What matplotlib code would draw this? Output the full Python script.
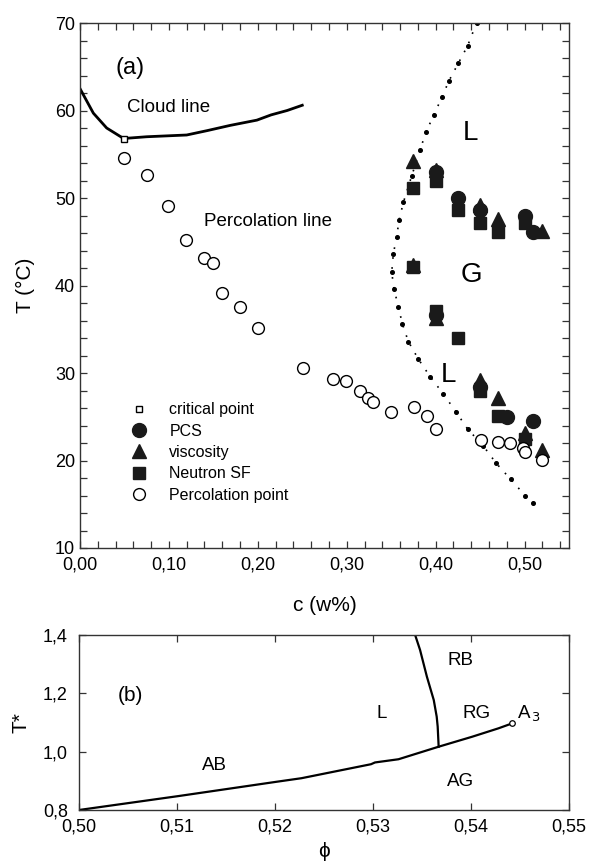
import numpy as np
import matplotlib.pyplot as plt
from matplotlib.ticker import MultipleLocator, FuncFormatter

plt.rcParams['font.family'] = ['Liberation Sans', 'DejaVu Sans']

# ---- panel (a) data ----
cloud_c = [0.000, 0.015, 0.030, 0.049, 0.075, 0.120, 0.143, 0.169, 0.199, 0.215, 0.233, 0.250]
cloud_T = [62.5, 59.7, 58.0, 56.8, 57.0, 57.2, 57.7, 58.3, 58.9, 59.5, 60.0, 60.6]

crit_c = [0.049]
crit_T = [56.8]

# coexistence boundary (dotted)
bnd_c = [0.446, 0.436, 0.4255, 0.415, 0.407, 0.398, 0.389, 0.3825, 0.373, 0.3637, 0.359, 0.356,
         0.3524, 0.3506, 0.3532, 0.358, 0.3626, 0.3693, 0.3805, 0.3937, 0.4087, 0.4226,
         0.436, 0.4537, 0.468, 0.4844, 0.5006, 0.510]
bnd_T = [70.0, 67.4, 65.4, 63.4, 61.5, 59.5, 57.5, 55.5, 52.5, 49.5, 47.5, 45.5,
         43.6, 41.5, 39.6, 37.6, 35.6, 33.6, 31.6, 29.6, 27.6, 25.6,
         23.6, 21.65, 19.7, 17.85, 16.0, 15.1]

pcs_c = [0.40, 0.425, 0.45, 0.50, 0.51, 0.40, 0.45, 0.48, 0.51]
pcs_T = [53.0, 50.0, 48.6, 48.0, 46.1, 36.6, 28.4, 25.0, 24.5]

visc_c = [0.375, 0.40, 0.45, 0.47, 0.52, 0.375, 0.40, 0.45, 0.47, 0.50, 0.52]
visc_T = [54.2, 53.2, 49.2, 47.6, 46.2, 42.3, 36.3, 29.2, 27.2, 23.2, 21.2]

nsf_c = [0.375, 0.40, 0.425, 0.45, 0.47, 0.50, 0.375, 0.40, 0.425, 0.45, 0.47, 0.50]
nsf_T = [51.1, 52.0, 48.6, 47.1, 46.1, 47.1, 42.1, 37.1, 34.0, 28.0, 25.1, 22.5]

perc_c = [0.050, 0.075, 0.099, 0.119, 0.1395, 0.150, 0.160, 0.180, 0.2006, 0.2505, 0.284,
          0.299, 0.315, 0.324, 0.330, 0.350, 0.376, 0.390, 0.4005, 0.451, 0.470, 0.484,
          0.498, 0.5006, 0.520]
perc_T = [54.6, 52.6, 49.1, 45.2, 43.1, 42.6, 39.1, 37.6, 35.1, 30.6, 29.3,
          29.1, 27.9, 27.1, 26.65, 25.6, 26.1, 25.1, 23.6, 22.3, 22.1, 22.0,
          21.4, 21.0, 20.05]

# ---- panel (b) data ----
low_phi = [0.500, 0.5102, 0.5202, 0.5227, 0.5298, 0.5302, 0.5326, 0.5367, 0.5401, 0.5428, 0.5442]
low_T = [0.800, 0.848, 0.897, 0.909, 0.957, 0.963, 0.974, 1.017, 1.051, 1.080, 1.097]

vert_phi = [0.5343, 0.5348, 0.5355, 0.5362, 0.5365, 0.5366, 0.5367]
vert_T = [1.400, 1.349, 1.257, 1.177, 1.120, 1.086, 1.017]

a3_phi = [0.5442]
a3_T = [1.10]

spine_col = '#333333'


def style_axes(ax):
    for s in ax.spines.values():
        s.set_color(spine_col)
        s.set_linewidth(1.0)
    ax.tick_params(which='both', direction='in', top=True, right=True,
                   color=spine_col, width=0.9, labelsize=13)
    ax.tick_params(which='major', length=5)
    ax.tick_params(which='minor', length=5)


comma2 = FuncFormatter(lambda v, p: f'{v:.2f}'.replace('.', ','))
comma1 = FuncFormatter(lambda v, p: f'{v:.1f}'.replace('.', ','))

fig = plt.figure(figsize=(5.91, 8.64), dpi=100, facecolor='w')

# ---------------- (a) ----------------
ax = fig.add_axes([80 / 591, (864 - 548) / 864, 489 / 591, 525 / 864])
ax.plot(cloud_c, cloud_T, color='k', lw=2)
ax.plot(bnd_c, bnd_T, ls=(0, (1, 5)), lw=1.2, color='k')
ax.plot(bnd_c, bnd_T, ls='none', marker='o', ms=2.6, color='k')

ax.plot(pcs_c, pcs_T, 'o', ms=10, color='#1a1a1a', label='PCS')
ax.plot(visc_c, visc_T, '^', ms=10, color='#1a1a1a', label='viscosity')
ax.plot(nsf_c, nsf_T, 's', ms=9, color='#1a1a1a', label='Neutron SF')
ax.plot(perc_c, perc_T, 'o', ms=8.5, mfc='w', mec='k', mew=1, ls='none',
        label='Percolation point')
ax.plot(crit_c, crit_T, 's', ms=4.5, mfc='w', mec='k', mew=1, label='critical point')

h, l = ax.get_legend_handles_labels()
order = [4, 0, 1, 2, 3]
ax.legend([h[i] for i in order], [l[i] for i in order], loc='upper left',
          bbox_to_anchor=(0.075, 0.29), frameon=False, fontsize=11.5,
          handletextpad=0.9, labelspacing=0.4, borderaxespad=0, numpoints=1)

ax.text(0.056, 64.9, '(a)', fontsize=17, ha='center', va='center')
ax.text(0.100, 60.4, 'Cloud line', fontsize=13.5, ha='center', va='center')
ax.text(0.2115, 47.3, 'Percolation line', fontsize=13.5, ha='center', va='center')
ax.text(0.4387, 57.4, 'L', fontsize=20, ha='center', va='center')
ax.text(0.4406, 41.2, 'G', fontsize=20, ha='center', va='center')
ax.text(0.4143, 29.8, 'L', fontsize=20, ha='center', va='center')

ax.set_xlim(0, 0.55)
ax.set_ylim(10, 70)
ax.xaxis.set_major_locator(MultipleLocator(0.1))
ax.xaxis.set_minor_locator(MultipleLocator(0.02))
ax.yaxis.set_major_locator(MultipleLocator(10))
ax.yaxis.set_minor_locator(MultipleLocator(2))
ax.xaxis.set_major_formatter(comma2)
style_axes(ax)
ax.tick_params(axis='x', which='major', pad=6)
ax.set_xlabel('c (w%)', fontsize=15, labelpad=16)
ax.set_ylabel('T (°C)', fontsize=15, labelpad=14)

# ---------------- (b) ----------------
bx = fig.add_axes([79 / 591, (864 - 810) / 864, 490 / 591, 175 / 864])
bx.plot(low_phi, low_T, color='k', lw=1.6)
bx.plot(vert_phi, vert_T, color='k', lw=1.6)
bx.plot(a3_phi, a3_T, 'o', ms=4, mfc='w', mec='k', mew=0.9)

bx.text(0.5052, 1.194, '(b)', fontsize=15, ha='center', va='center')
bx.text(0.5138, 0.954, 'AB', fontsize=13.5, ha='center', va='center')
bx.text(0.5309, 1.131, 'L', fontsize=13.5, ha='center', va='center')
bx.text(0.5389, 1.314, 'RB', fontsize=13.5, ha='center', va='center')
bx.text(0.5406, 1.131, 'RG', fontsize=13.5, ha='center', va='center')
bx.text(0.5447, 1.131, r'A$_{\,3}$', fontsize=13.5, ha='left', va='center')
bx.text(0.5389, 0.897, 'AG', fontsize=13.5, ha='center', va='center')

bx.set_xlim(0.50, 0.55)
bx.set_ylim(0.8, 1.4)
bx.xaxis.set_major_locator(MultipleLocator(0.01))
bx.yaxis.set_major_locator(MultipleLocator(0.2))
bx.xaxis.set_major_formatter(comma2)
bx.yaxis.set_major_formatter(comma1)
style_axes(bx)
bx.tick_params(axis='x', pad=6)
bx.tick_params(axis='y', pad=8)
bx.set_xlabel('ϕ', fontsize=15, labelpad=5)
bx.set_ylabel('T*', fontsize=15, labelpad=9)

fig.savefig('out.png', dpi=100)
